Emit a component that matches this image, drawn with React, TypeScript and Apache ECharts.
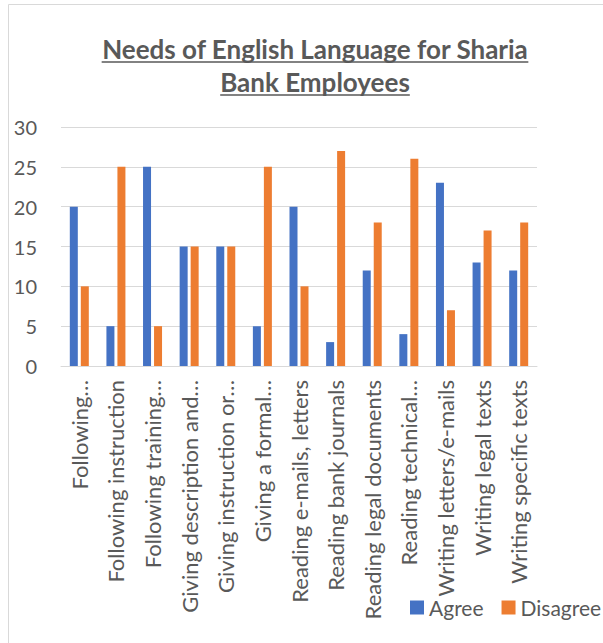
import React, { useEffect, useRef } from "react";
import * as echarts from "echarts";

const categories = [
  "Following…",
  "Following instruction",
  "Following training…",
  "Giving description and…",
  "Giving instruction or…",
  "Giving a formal…",
  "Reading e-mails, letters",
  "Reading bank journals",
  "Reading legal documents",
  "Reading technical…",
  "Writing letters/e-mails",
  "Writing legal texts",
  "Writing specific texts",
];
const agree = [20, 5, 25, 15, 15, 5, 20, 3, 12, 4, 23, 13, 12];
const disagree = [10, 25, 5, 15, 15, 25, 10, 27, 18, 26, 7, 17, 18];
const titleLines = ["Needs of English Language for Sharia", "Bank Employees"];

const FONT = "Lato, 'Liberation Sans', sans-serif";
const TXT = "#595959";

function measure(text: string, font: string): number {
  const c = document.createElement("canvas");
  const ctx = c.getContext("2d");
  if (!ctx) return text.length * 12;
  ctx.font = font;
  return ctx.measureText(text).width;
}

export default function App() {
  const ref = useRef<HTMLDivElement>(null);
  useEffect(() => {
    if (!ref.current) return;
    const chart = echarts.init(ref.current, undefined, { renderer: "svg" });
    const titleSize = 26;
    const cx = 315;
    const lineYs = [49, 82];
    const ulYs = [62, 95];
    const graphics: any[] = [
      {
        type: "rect",
        shape: { x: 8.5, y: 4.5, width: 700, height: 700 },
        style: { fill: "none", stroke: "#d9d9d9", lineWidth: 1 },
        silent: true,
      },
    ];
    titleLines.forEach((t, i) => {
      const w = measure(t, `bold ${titleSize}px Lato`);
      graphics.push({
        type: "text",
        x: cx,
        y: lineYs[i],
        style: {
          text: t,
          fill: TXT,
          font: `bold ${titleSize}px ${FONT}`,
          textAlign: "center",
          textVerticalAlign: "middle",
        },
      });
      graphics.push({
        type: "line",
        shape: { x1: cx - w / 2, y1: ulYs[i], x2: cx + w / 2, y2: ulYs[i] },
        style: { stroke: TXT, lineWidth: 1.5 },
      });
    });
    chart.setOption({
      animation: false,
      graphic: graphics,
      legend: {
        data: ["Agree", "Disagree"],
        left: 410,
        top: 597,
        padding: 0,
        itemWidth: 14,
        itemHeight: 14,
        itemGap: 18,
        icon: "rect",
        textStyle: { color: TXT, fontSize: 21, fontFamily: FONT },
      },
      grid: { left: 61, right: 66, top: 127, bottom: 277, containLabel: false },
      xAxis: {
        type: "category",
        data: categories,
        axisLine: { show: true, lineStyle: { color: "#d9d9d9", width: 1 } },
        axisTick: { show: false },
        axisLabel: {
          interval: 0,
          rotate: 90,
          margin: 14,
          color: TXT,
          fontSize: 22,
          fontFamily: FONT,
        },
      },
      yAxis: {
        type: "value",
        min: 0,
        max: 30,
        interval: 5,
        axisLine: { show: false },
        axisTick: { show: false },
        splitLine: { lineStyle: { color: "#d9d9d9", width: 1 } },
        axisLabel: { color: TXT, fontSize: 20, fontFamily: FONT, margin: 24 },
      },
      series: [
        {
          name: "Agree",
          type: "bar",
          data: agree,
          barWidth: 8,
          barGap: "37.5%",
          itemStyle: { color: "#4472C4" },
        },
        {
          name: "Disagree",
          type: "bar",
          data: disagree,
          barWidth: 8,
          itemStyle: { color: "#ED7D31" },
        },
      ],
    });
    return () => chart.dispose();
  }, []);
  return (
    <div
      ref={ref}
      style={{ position: "absolute", left: 0, top: 0, width: 603, height: 643 }}
    />
  );
}
